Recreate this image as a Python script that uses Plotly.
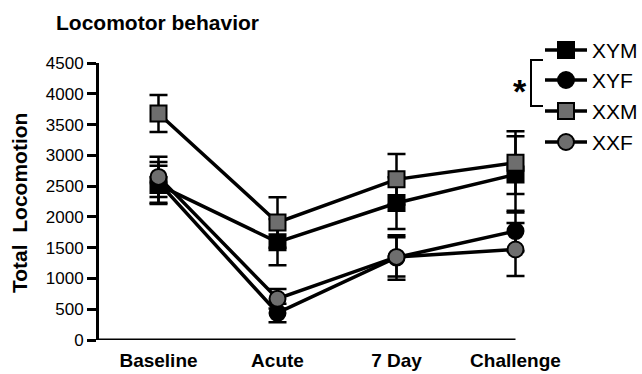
import plotly.graph_objects as go

W, H = 642, 374
OFF = 0  # body margin removed via post_script; positions below are in screen pixels

categories = ["Baseline", "Acute", "7 Day", "Challenge"]
series_names = ["XYM", "XYF", "XXM", "XXF"]
xym = [2520, 1590, 2225, 2690]
xym_err = [310, 375, 420, 620]
xyf = [2560, 440, 1340, 1770]
xyf_err = [330, 150, 360, 330]
xxm = [3680, 1910, 2610, 2880]
xxm_err = [300, 410, 410, 510]
xxf = [2650, 670, 1350, 1470]
xxf_err = [325, 160, 320, 430]
y_ticks = [0, 500, 1000, 1500, 2000, 2500, 3000, 3500, 4000, 4500]

GREY = "#6e6e6e"
FONT = "Liberation Sans, Arial, sans-serif"
styles = {
    "XYM": dict(symbol="square", color="black"),
    "XYF": dict(symbol="circle", color="black"),
    "XXM": dict(symbol="square", color=GREY),
    "XXF": dict(symbol="circle", color=GREY),
}
values = {"XYM": (xym, xym_err), "XYF": (xyf, xyf_err),
          "XXM": (xxm, xxm_err), "XXF": (xxf, xxf_err)}

# plot area in screen pixels (x range extends half a category past the last one
# so nothing at "Challenge" is clipped; the visible axis line stops at Challenge)
PL, PR, PT, PB = 99, 575, 63, 340


def px(x):
    return (x - OFF) / W


def py(y):
    return 1 - (y - OFF) / H


fig = go.Figure()
for name in series_names:
    vals, errs = values[name]
    st = styles[name]
    fig.add_trace(go.Scatter(
        x=categories, y=vals, mode="lines+markers", name=name,
        line=dict(color="black", width=3.5),
        marker=dict(symbol=st["symbol"], size=16, color=st["color"],
                    line=dict(color="black", width=2)),
        error_y=dict(type="data", array=errs, visible=True,
                     color="black", thickness=2.5, width=9),
        cliponaxis=False, showlegend=False,
    ))

# x axis line from the left edge to the last category
fig.add_shape(type="line", xref="x", yref="y", x0=-0.5, x1=3.0, y0=0, y1=0,
              line=dict(color="black", width=3), layer="below")

# manual legend in a pixel-coordinate overlay
leg_y = [50, 80, 111, 142]
for name, yy in zip(series_names, leg_y):
    st = styles[name]
    fig.add_trace(go.Scatter(
        x=[545, 587], y=[yy, yy], mode="lines", xaxis="x2", yaxis="y2",
        line=dict(color="black", width=3.5), showlegend=False, hoverinfo="skip"))
    fig.add_trace(go.Scatter(
        x=[566], y=[yy], mode="markers", xaxis="x2", yaxis="y2",
        marker=dict(symbol=st["symbol"], size=16, color=st["color"],
                    line=dict(color="black", width=2)),
        showlegend=False, hoverinfo="skip"))
    fig.add_annotation(x=590, y=yy, xref="x2", yref="y2", text=name,
                       showarrow=False, xanchor="left", yanchor="middle",
                       font=dict(family=FONT, size=21, color="black"))

# significance bracket
fig.add_trace(go.Scatter(
    x=[543, 531, 531, 543], y=[60, 60, 106, 106], mode="lines",
    xaxis="x2", yaxis="y2", line=dict(color="black", width=2),
    showlegend=False, hoverinfo="skip"))
fig.add_annotation(x=520, y=91, xref="x2", yref="y2", text="<b>*</b>",
                   showarrow=False, xanchor="center", yanchor="middle",
                   font=dict(family=FONT, size=34, color="black"))

fig.add_annotation(x=px(157), y=py(22), xref="paper", yref="paper",
                   text="<b>Locomotor behavior</b>", showarrow=False,
                   xanchor="center", yanchor="middle",
                   font=dict(family=FONT, size=21, color="black"))
fig.add_annotation(x=px(20), y=py(203), xref="paper", yref="paper",
                   text="<b>Total  Locomotion</b>", showarrow=False,
                   textangle=-90, xanchor="center", yanchor="middle",
                   font=dict(family=FONT, size=21, color="black"))

fig.update_layout(
    width=W, height=H,
    margin=dict(l=0, r=0, t=0, b=0, pad=0),
    paper_bgcolor="white", plot_bgcolor="rgba(0,0,0,0)",
    font=dict(family=FONT, color="black"),
    xaxis=dict(domain=[px(PL), px(PR)], type="category",
               categoryorder="array", categoryarray=categories,
               range=[-0.5, 3.5], showline=False,
               ticks="", showgrid=False, zeroline=False,
               tickfont=dict(family=FONT, size=19, color="black"),
               tickprefix="<b>", ticksuffix="</b>",
               ticklabelstandoff=7, automargin=False),
    yaxis=dict(domain=[py(PB), py(PT)], range=[0, 4500],
               tickvals=y_ticks, showline=True, linewidth=3,
               linecolor="black", ticks="outside", ticklen=9, tickwidth=3,
               tickcolor="black", showgrid=False, zeroline=False,
               tickfont=dict(family=FONT, size=17, color="black"),
               tickprefix="<b>", ticksuffix="</b>",
               automargin=False),
    xaxis2=dict(domain=[0, 1], range=[OFF, W + OFF], anchor="y2",
                visible=False, fixedrange=True),
    yaxis2=dict(domain=[0, 1], range=[H + OFF, OFF], anchor="x2",
                visible=False, fixedrange=True),
)

fig.write_html(
    "out.html",
    config={"displayModeBar": False},
    post_script="document.body.style.margin='0';document.body.style.overflow='hidden';",
)
